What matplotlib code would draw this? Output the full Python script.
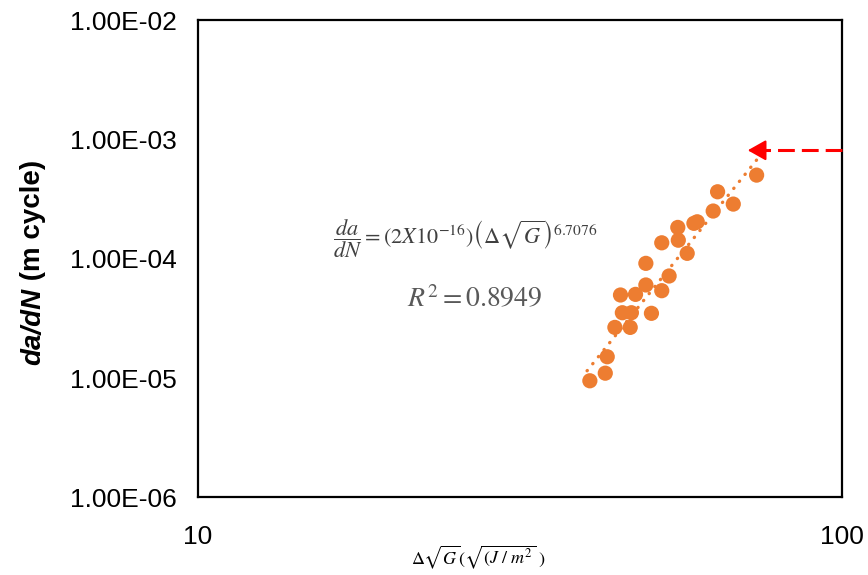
import numpy as np
import matplotlib.pyplot as plt

plt.rcParams['font.family'] = ['Liberation Sans', 'DejaVu Sans']
plt.rcParams['mathtext.fontset'] = 'stix'

# crack growth data
delta_g = [40.6, 42.9, 43.2, 44.4, 46.9, 45.6, 47.1, 50.6, 45.3, 47.8, 49.6,
           52.5, 53.9, 49.6, 57.5, 52.5, 55.7, 55.6, 58.9, 59.6, 63.1, 67.8,
           64.1, 73.7]
dadn = [9.5e-6, 1.10e-5, 1.51e-5, 2.66e-5, 2.66e-5, 3.53e-5, 3.53e-5, 3.49e-5,
        4.97e-5, 5.03e-5, 6.03e-5, 5.40e-5, 7.17e-5, 9.15e-5, 1.11e-4, 1.36e-4,
        1.43e-4, 1.83e-4, 1.98e-4, 2.04e-4, 2.51e-4, 2.87e-4, 3.64e-4, 5.02e-4]

# power law trendline from the equation on the chart
coef = 2e-16
expo = 6.7076
fit_range = [40.2, 74.5]

# arrow marker
arrow_y = 8.1e-4
arrow_tip_x = 70.7

orange = '#ED7D31'

fig = plt.figure(figsize=(8.68, 5.75), dpi=100)
ax = fig.add_axes([0.2281, 0.1348, 0.7419, 0.8304])

ax.set_xscale('log')
ax.set_yscale('log')
ax.set_xlim(10, 100)
ax.set_ylim(1e-6, 1e-2)

xs = np.geomspace(fit_range[0], fit_range[1], 50)
ax.plot(xs, coef * xs ** expo, color=orange, lw=2.4,
        linestyle=(0, (0.1, 2.6)), dash_capstyle='round', zorder=2)
ax.scatter(delta_g, dadn, s=120, color=orange, edgecolors='none', zorder=3)

# red dashed arrow from right edge
ax.plot([100, arrow_tip_x * 1.04], [arrow_y, arrow_y], color='red', lw=2.2,
        linestyle=(0, (5.5, 2.3)), zorder=4, clip_on=False)
ax.annotate('', xy=(arrow_tip_x, arrow_y), xytext=(arrow_tip_x * 1.045, arrow_y),
            arrowprops=dict(arrowstyle='-|>,head_length=0.8,head_width=0.45',
                            color='red', lw=1.5, mutation_scale=14), zorder=5)

ax.set_xticks([10, 100])
ax.set_xticklabels(['10', '100'])
ax.set_yticks([1e-6, 1e-5, 1e-4, 1e-3, 1e-2])
ax.set_yticklabels(['1.00E-06', '1.00E-05', '1.00E-04', '1.00E-03', '1.00E-02'])
ax.minorticks_off()
ax.tick_params(axis='both', length=0, labelsize=19)
ax.tick_params(axis='y', pad=15)
ax.tick_params(axis='x', pad=20)

for sp in ax.spines.values():
    sp.set_linewidth(1.6)
    sp.set_color('black')

# y label: italic part and plain part
fig.canvas.draw()
t1 = fig.text(0.038, 0.365, 'da/dN', rotation=90, fontsize=20,
              fontweight='bold', style='italic', ha='center', va='bottom')
bb = t1.get_window_extent(fig.canvas.get_renderer())
fig.text(0.038, bb.y1 / fig.bbox.height, ' (m cycle)', rotation=90, fontsize=20,
         fontweight='bold', ha='center', va='bottom')

fig.text(0.551, 0.03, r'$\Delta\sqrt{G}(\sqrt{(J\ /\ m^2}\ )$', fontsize=13,
         ha='center', va='center')

ax.text(0.21, 0.543,
        r'$\dfrac{da}{dN}=\left(2X10^{-16}\right)\left(\Delta\sqrt{G}\right)^{6.7076}$',
        transform=ax.transAxes, fontsize=16, color='#404040', va='center')
ax.text(0.43, 0.414, r'$R^2 = 0.8949$', transform=ax.transAxes,
        fontsize=20, color='#595959', ha='center', va='center')

fig.savefig('out.png', dpi=100)
